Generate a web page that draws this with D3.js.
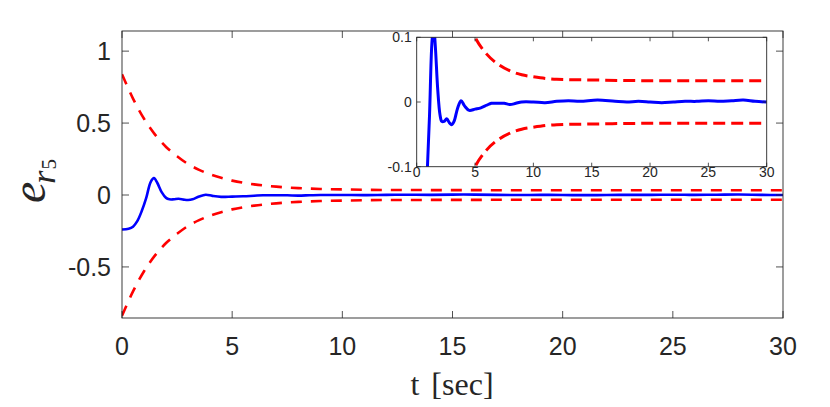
<!DOCTYPE html>
<html>
<head>
<meta charset="utf-8">
<script src="https://cdn.jsdelivr.net/npm/d3@7"></script>
<style>
    body { margin: 0; background: #fff; }
    text { fill: #262626; }
</style>
</head>
<body>
<svg id="chart" width="830" height="407"></svg>
<script>
// tracking error e_r5
const tErr = [0, 0.3, 0.5, 0.7, 0.9, 1.1, 1.3, 1.45, 1.6, 1.8, 2.0, 2.15, 2.35, 2.57, 2.8, 3.0, 3.2, 3.5, 3.8,
    4.1, 4.5, 5.0, 5.5, 6.0, 6.4, 7.0, 7.5, 8.0, 8.5, 9.0, 10, 11, 12, 13, 14, 15.5, 17, 18, 19, 20, 21, 22,
    23, 24, 25, 26, 27, 28, 29, 30];
const errValues = [-0.24, -0.235, -0.22, -0.18, -0.11, -0.02, 0.09, 0.117, 0.085, 0.02, -0.02, -0.030, -0.030,
    -0.026, -0.032, -0.035, -0.030, -0.010, 0.002, -0.006, -0.013, -0.011, -0.009, -0.005, -0.002, -0.002,
    -0.002, -0.004, -0.002, 0.000, 0.000, -0.001, 0.001, 0.002, 0.001, 0.003, 0.001, 0.000, 0.001, 0.000,
    -0.001, 0.000, 0.001, 0.001, 0.002, 0.001, 0.002, 0.003, 0.001, 0.000];

// prescribed performance bounds
const tBound = [0, 0.5, 1, 1.5, 2, 2.5, 3, 3.5, 4, 4.5, 5, 6, 7, 8, 9, 10, 12, 15, 20, 25, 30];
const upperBound = [0.84, 0.67, 0.53, 0.42, 0.334, 0.27, 0.215, 0.175, 0.144, 0.12, 0.100, 0.074, 0.058,
    0.048, 0.042, 0.039, 0.035, 0.034, 0.033, 0.033, 0.033];
const lowerBound = [-0.84, -0.67, -0.53, -0.42, -0.334, -0.27, -0.215, -0.175, -0.144, -0.12, -0.100, -0.074,
    -0.058, -0.048, -0.042, -0.039, -0.035, -0.034, -0.033, -0.033, -0.033];

const mainXTicks = [0, 5, 10, 15, 20, 25, 30];
const mainYTicks = [-0.5, 0, 0.5, 1];
const insetXTicks = [0, 5, 10, 15, 20, 25, 30];
const insetYTicks = [-0.1, 0, 0.1];

const svg = d3.select('#chart');
const axisColor = '#262626';

function drawPanel(opts) {
    const { x, y, xTicks, yTicks, tickLen, fontSize, xLabelDy, yLabelDx, lineWidth, dash, clipId } = opts;
    const [x0, x1] = x.range();
    const [y0, y1] = y.range(); // y0 bottom, y1 top

    const g = svg.append('g');

    // white background box
    g.append('rect')
        .attr('x', x0).attr('y', y1)
        .attr('width', x1 - x0).attr('height', y0 - y1)
        .attr('fill', '#fff');

    svg.append('clipPath').attr('id', clipId)
        .append('rect')
        .attr('x', x0).attr('y', y1)
        .attr('width', x1 - x0).attr('height', y0 - y1);

    const plot = g.append('g').attr('clip-path', `url(#${clipId})`);

    const line = d3.line()
        .x(d => x(d[0]))
        .y(d => y(d[1]));

    const upper = tBound.map((t, i) => [t, upperBound[i]]);
    const lower = tBound.map((t, i) => [t, lowerBound[i]]);
    const err = tErr.map((t, i) => [t, errValues[i]]);

    [upper, lower].forEach(data => {
        plot.append('path')
            .datum(data)
            .attr('d', line.curve(d3.curveMonotoneX))
            .attr('fill', 'none')
            .attr('stroke', '#ff0000')
            .attr('stroke-width', lineWidth)
            .attr('stroke-dasharray', dash);
    });

    plot.append('path')
        .datum(err)
        .attr('d', line.curve(d3.curveCatmullRom.alpha(0.5)))
        .attr('fill', 'none')
        .attr('stroke', '#0000ff')
        .attr('stroke-width', lineWidth)
        .attr('stroke-linejoin', 'round');

    // ticks on all four sides, pointing inward
    const ticks = g.append('g').attr('stroke', axisColor).attr('stroke-width', 0.8);
    xTicks.forEach(t => {
        ticks.append('line').attr('x1', x(t)).attr('x2', x(t)).attr('y1', y0).attr('y2', y0 - tickLen);
        ticks.append('line').attr('x1', x(t)).attr('x2', x(t)).attr('y1', y1).attr('y2', y1 + tickLen);
    });
    yTicks.forEach(v => {
        ticks.append('line').attr('x1', x0).attr('x2', x0 + tickLen).attr('y1', y(v)).attr('y2', y(v));
        ticks.append('line').attr('x1', x1).attr('x2', x1 - tickLen).attr('y1', y(v)).attr('y2', y(v));
    });

    g.append('rect')
        .attr('x', x0).attr('y', y1)
        .attr('width', x1 - x0).attr('height', y0 - y1)
        .attr('fill', 'none')
        .attr('stroke', axisColor)
        .attr('stroke-width', 0.9);

    g.selectAll('.xlab')
        .data(xTicks)
        .enter()
        .append('text')
        .attr('x', d => x(d))
        .attr('y', y0 + xLabelDy)
        .attr('text-anchor', 'middle')
        .style('font-family', '"Liberation Sans", Arial, sans-serif')
        .style('font-size', fontSize + 'px')
        .text(d => String(d));

    g.selectAll('.ylab')
        .data(yTicks)
        .enter()
        .append('text')
        .attr('x', x0 - yLabelDx)
        .attr('y', d => y(d) + fontSize * 0.36)
        .attr('text-anchor', 'end')
        .style('font-family', '"Liberation Sans", Arial, sans-serif')
        .style('font-size', fontSize + 'px')
        .text(d => String(d));
}

// main axes
const xMain = d3.scaleLinear().domain([0, 30]).range([122, 783]);
const yMain = d3.scaleLinear().domain([-0.855, 1.14]).range([318, 31]);

drawPanel({
    x: xMain, y: yMain,
    xTicks: mainXTicks, yTicks: mainYTicks,
    tickLen: 7, fontSize: 25, xLabelDy: 37, yLabelDx: 11,
    lineWidth: 2.6, dash: '11,9', clipId: 'clipMain'
});

// inset axes
const xInset = d3.scaleLinear().domain([0, 30]).range([416.7, 766.7]);
const yInset = d3.scaleLinear().domain([-0.1, 0.1]).range([166.7, 37.3]);

drawPanel({
    x: xInset, y: yInset,
    xTicks: insetXTicks, yTicks: insetYTicks,
    tickLen: 4, fontSize: 14, xLabelDy: 10.5, yLabelDx: 5,
    lineWidth: 3, dash: '12,6', clipId: 'clipInset'
});

// axis titles
svg.append('text')
    .attr('x', 452)
    .attr('y', 395)
    .attr('text-anchor', 'middle')
    .style('font-family', '"Liberation Serif", "Times New Roman", serif')
    .style('font-size', '32px')
    .call(t => {
        t.append('tspan').text('t');
        t.append('tspan').attr('dx', 12).text('[sec]');
    });

svg.append('text')
    .attr('transform', 'translate(45, 203) rotate(-90)')
    .attr('text-anchor', 'start')
    .style('font-family', '"Liberation Serif", "Times New Roman", serif')
    .call(t => {
        t.append('tspan').style('font-size', '48px').style('font-style', 'italic').text('e');
        t.append('tspan').style('font-size', '34px').style('font-style', 'italic')
            .attr('dx', -2).attr('dy', 10).text('r');
        t.append('tspan').style('font-size', '21px').attr('dx', 1).attr('dy', 1).text('5');
    });
</script>
</body>
</html>
